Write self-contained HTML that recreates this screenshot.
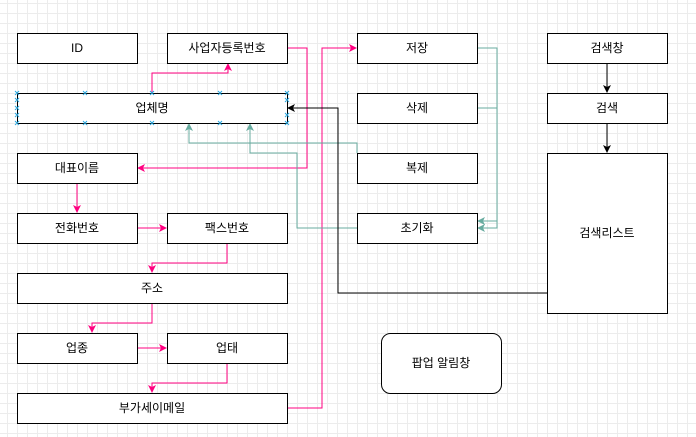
<!DOCTYPE html>
<html><head><meta charset="utf-8"><style>
body{margin:0;width:696px;height:437px;overflow:hidden;background:#fff;
background-image:linear-gradient(#ececec 1px,transparent 1px),linear-gradient(90deg,#ececec 1px,transparent 1px);
background-size:10px 10px;background-position:7px 3px;}
svg{position:absolute;left:0;top:0}
text{font-family:"Liberation Sans","Noto Sans CJK KR",sans-serif;font-size:12px;text-anchor:middle;dominant-baseline:central;fill:#000}
</style></head><body>
<svg width="696" height="437" viewBox="0 0 696 437">
<defs>
<marker id="p" markerWidth="8" markerHeight="8" refX="7" refY="4" orient="auto" markerUnits="userSpaceOnUse"><path d="M0,0 L8,4 L0,8 L2,4z" fill="#ff0080"/></marker>
<marker id="t" markerWidth="8" markerHeight="8" refX="7" refY="4" orient="auto" markerUnits="userSpaceOnUse"><path d="M0,0 L8,4 L0,8 L2,4z" fill="#67ab9f"/></marker>
<marker id="k" markerWidth="8" markerHeight="8" refX="7" refY="4" orient="auto" markerUnits="userSpaceOnUse"><path d="M0,0 L8,4 L0,8 L2,4z" fill="#000"/></marker>
</defs>
<g fill="none" stroke-width="1">
<g stroke="#ff0080">
<polyline points="152,93 152,73 228,73 228,64" marker-end="url(#p)"/>
<polyline points="287,48 307,48 307,168 138,168" marker-end="url(#p)"/>
<polyline points="77,183 77,212" marker-end="url(#p)"/>
<polyline points="137,228 166,228" marker-end="url(#p)"/>
<polyline points="227,243 227,263 152,263 152,272" marker-end="url(#p)"/>
<polyline points="152,303 152,323 92,323 92,332" marker-end="url(#p)"/>
<polyline points="137,348 166,348" marker-end="url(#p)"/>
<polyline points="227,363 227,383 152,383 152,392" marker-end="url(#p)"/>
<polyline points="287,408 322,408 322,48 356,48" marker-end="url(#p)"/>
</g>
<g stroke="#67ab9f">
<polyline points="477,48 497,48 497,228 478,228" marker-end="url(#t)"/>
<polyline points="477,108 497,108 497,221 478,221" marker-end="url(#t)"/>
<polyline points="357,153 357,143 189,143 189,124" marker-end="url(#t)"/>
<polyline points="357,228 297,228 297,153 250,153 250,124" marker-end="url(#t)"/>
</g>
<g stroke="#000">
<polyline points="547,293 338,293 338,108 288,108" marker-end="url(#k)"/>
<polyline points="607,63 607,92" marker-end="url(#k)"/>
<polyline points="607,123 607,152" marker-end="url(#k)"/>
</g>
<g stroke="#000" fill="#fff">
<rect x="17.5" y="33.5" width="120" height="30"/>
<rect x="167.5" y="33.5" width="120" height="30"/>
<rect x="17.5" y="93.5" width="270" height="30"/>
<rect x="17.5" y="153.5" width="120" height="30"/>
<rect x="17.5" y="213.5" width="120" height="30"/>
<rect x="167.5" y="213.5" width="120" height="30"/>
<rect x="17.5" y="273.5" width="270" height="30"/>
<rect x="17.5" y="333.5" width="120" height="30"/>
<rect x="167.5" y="333.5" width="120" height="30"/>
<rect x="17.5" y="393.5" width="270" height="30"/>
<rect x="357.5" y="33.5" width="120" height="30"/>
<rect x="357.5" y="93.5" width="120" height="30"/>
<rect x="357.5" y="153.5" width="120" height="30"/>
<rect x="357.5" y="213.5" width="120" height="30"/>
<rect x="547.5" y="33.5" width="120" height="30"/>
<rect x="547.5" y="93.5" width="120" height="30"/>
<rect x="547.5" y="153.5" width="120" height="160"/>
<rect x="381.5" y="333.5" width="120" height="60" rx="9"/>
</g>
<g stroke="#29a8e0" stroke-width="1">
<path d="M15,91l4,4m0,-4l-4,4 M15,98l4,4m0,-4l-4,4 M15,106l4,4m0,-4l-4,4 M15,113l4,4m0,-4l-4,4 M15,121l4,4m0,-4l-4,4
M83,91l4,4m0,-4l-4,4 M150,91l4,4m0,-4l-4,4 M218,91l4,4m0,-4l-4,4 M285,91l4,4m0,-4l-4,4
M83,121l4,4m0,-4l-4,4 M150,121l4,4m0,-4l-4,4 M218,121l4,4m0,-4l-4,4 M285,121l4,4m0,-4l-4,4
M285,98l4,4m0,-4l-4,4 M285,113l4,4m0,-4l-4,4"/>
</g>
</g>
<text x="77" y="48">ID</text>
<text x="227" y="48">사업자등록번호</text>
<text x="152" y="108">업체명</text>
<text x="77" y="168">대표이름</text>
<text x="77" y="228">전화번호</text>
<text x="227" y="228">팩스번호</text>
<text x="152" y="288">주소</text>
<text x="77" y="348">업종</text>
<text x="227" y="348">업태</text>
<text x="152" y="408">부가세이메일</text>
<text x="417" y="48">저장</text>
<text x="417" y="108">삭제</text>
<text x="417" y="168">복제</text>
<text x="417" y="228">초기화</text>
<text x="607" y="48">검색창</text>
<text x="607" y="108">검색</text>
<text x="607" y="233">검색리스트</text>
<text x="441" y="363">팝업 알림창</text>
</svg>
</body></html>
